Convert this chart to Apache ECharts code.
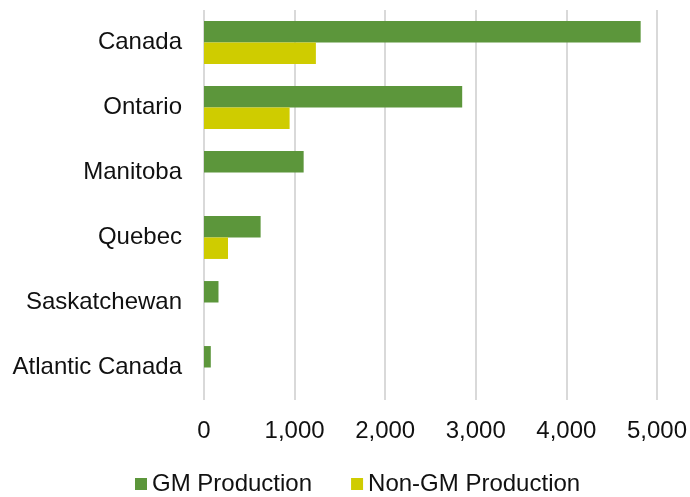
<!DOCTYPE html>
<html>
<head>
<meta charset="utf-8">
<script src="https://cdn.jsdelivr.net/npm/echarts@6/dist/echarts.min.js"></script>
<style>
  html, body { margin: 0; padding: 0; background: #fff; }
  #chart { width: 690px; height: 497px; }
</style>
</head>
<body>
<div id="chart"></div>
<script>
var regions = ['Canada', 'Ontario', 'Manitoba', 'Quebec', 'Saskatchewan', 'Atlantic Canada'];
var gmProduction = [4820, 2850, 1100, 625, 160, 75];
var nonGmProduction = [1235, 945, 0, 265, 0, 0];
var xTicks = [0, 1000, 2000, 3000, 4000, 5000];

var chart = echarts.init(document.getElementById('chart'));
var font = 'Liberation Sans, Arial, sans-serif';

var option = {
    animation: false,
    textStyle: { fontFamily: font },
    legend: {
        data: ['GM Production', 'Non-GM Production'],
        left: 135,
        top: 472,
        padding: 0,
        icon: 'rect',
        itemWidth: 12,
        itemHeight: 12,
        itemGap: 39,
        textStyle: { fontSize: 24, color: '#111', fontFamily: font }
    },
    grid: {
        left: 204,
        right: 33,
        top: 10,
        bottom: 97
    },
    xAxis: {
        type: 'value',
        min: xTicks[0],
        max: xTicks[xTicks.length - 1],
        interval: 1000,
        axisLine: { show: false },
        axisTick: { show: false },
        axisLabel: {
            fontSize: 24,
            color: '#111',
            margin: 19,
            fontFamily: font,
            formatter: function (v) { return v.toLocaleString('en-US'); }
        },
        splitLine: { lineStyle: { color: '#d9d9d9', width: 2 } }
    },
    yAxis: {
        type: 'category',
        inverse: true,
        data: regions,
        axisLine: { show: false },
        axisTick: { show: false },
        axisLabel: { fontSize: 24, color: '#111', margin: 22, fontFamily: font }
    },
    series: [
        {
            name: 'GM Production',
            type: 'bar',
            data: gmProduction,
            barGap: '0%',
            barCategoryGap: '34%',
            itemStyle: { color: '#5C963B' }
        },
        {
            name: 'Non-GM Production',
            type: 'bar',
            data: nonGmProduction,
            barGap: '0%',
            barCategoryGap: '34%',
            itemStyle: { color: '#CFCC00' }
        }
    ]
};

chart.setOption(option);
window.onresize = function () {
    chart.resize();
};
</script>
</body>
</html>
